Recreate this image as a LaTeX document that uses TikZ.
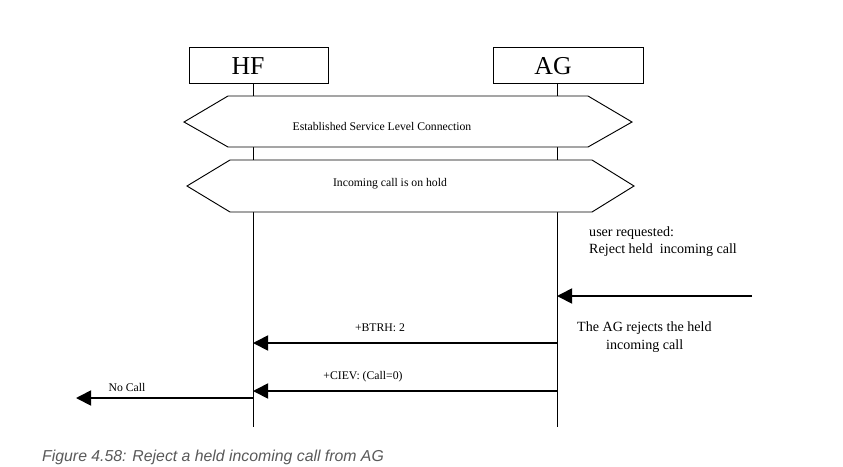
\documentclass[tikz,border=0pt]{standalone}
\usepackage{fontspec}
\setmainfont{Liberation Serif}
\newfontfamily\capfont{Liberation Sans}
\usetikzlibrary{arrows.meta}
\definecolor{capgray}{RGB}{89,89,89}

\begin{document}
\begin{tikzpicture}[x=0.03cm,y=-0.03cm]
  \tikzstyle{EntityStyle}=[draw=black,line width=0.8pt,minimum height=1.08cm,inner sep=0pt]
  \tikzstyle{StateStyle}=[draw=black,line width=0.8pt,fill=white]
  \tikzstyle{MsgStyle}=[line width=1.5pt,-{Triangle[length=13pt,width=13pt]}]
  \tikzstyle{LabelStyle}=[inner sep=1pt,font=\fontsize{10}{12}\selectfont]
  \tikzstyle{NoteStyle}=[inner sep=0pt,anchor=west,font=\fontsize{12}{14}\selectfont]
  % bounds
  \useasboundingbox (0,0) rectangle (843,466);
  % entities
  \node[EntityStyle,minimum width=4.17cm] (hf) at (258.5,65) {};
  \node[EntityStyle,minimum width=4.5cm] (ag) at (568,65) {};
  \node[font=\fontsize{22}{24}\selectfont] (hfname) at (248,66) {HF};
  \node[font=\fontsize{22}{24}\selectfont] (agname) at (553,66) {AG};
  % lifelines
  \coordinate (hftop) at (253,83);
  \coordinate (hfend) at (253,427);
  \coordinate (agtop) at (557,83);
  \coordinate (agend) at (557,427);
  \draw[line width=0.8pt] (hftop) -- (hfend);
  \draw[line width=0.8pt] (agtop) -- (agend);
  % states
  \draw[StateStyle] (184,122) -- (228,96) -- (588,96) -- (632,122) -- (588,147) -- (228,147) -- cycle;
  \node[LabelStyle] (slc) at (382,126) {Established Service Level Connection};
  \draw[StateStyle] (187,186) -- (230,160) -- (592,160) -- (634,186) -- (592,212) -- (230,212) -- cycle;
  \node[LabelStyle] (hold) at (390,184) {Incoming call is on hold};
  % user action
  \node[NoteStyle] (req1) at (589,233) {user requested:};
  \node[NoteStyle] (req2) at (589,250) {Reject held\ \ incoming call};
  \coordinate (user) at (752,296);
  \coordinate (ag1) at (557,296);
  \draw[MsgStyle] (user) -- (ag1);
  \node[NoteStyle] (rej1) at (577,328) {The AG rejects the held};
  \node[NoteStyle] (rej2) at (606,346) {incoming call};
  % messages
  \coordinate (ag2) at (557,343);
  \coordinate (hf2) at (253,343);
  \draw[MsgStyle] (ag2) -- (hf2);
  \node[LabelStyle] (btrh) at (380,328) {+BTRH: 2};
  \coordinate (ag3) at (557,391);
  \coordinate (hf3) at (253,391);
  \draw[MsgStyle] (ag3) -- (hf3);
  \node[LabelStyle] (ciev) at (363,377) {+CIEV: (Call=0)};
  \coordinate (hf4) at (253,398);
  \coordinate (out) at (76,398);
  \draw[MsgStyle] (hf4) -- (out);
  \node[LabelStyle] (nocall) at (127,387) {No Call};
  % caption
  \node[anchor=west,inner sep=0pt,text=capgray,font=\capfont\itshape\fontsize{13.5}{16}\selectfont] (caption) at (42,457) {Figure 4.58: Reject a held incoming call from AG};
\end{tikzpicture}
\end{document}
